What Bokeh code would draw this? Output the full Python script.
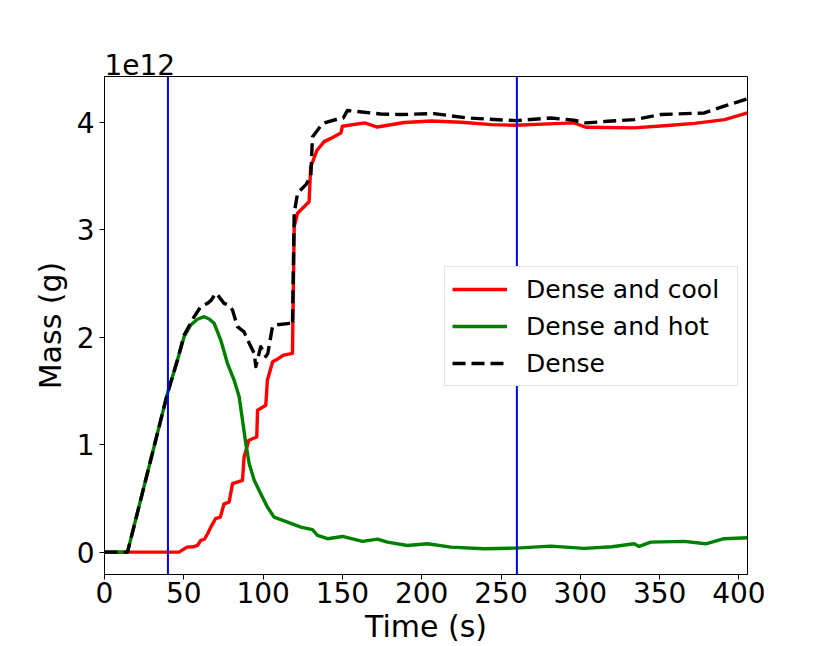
import numpy as np
from bokeh.plotting import figure
from bokeh.models import (Range1d, FixedTicker, CustomJSTickFormatter, Span, Title,
                          Legend, LegendItem)
from bokeh.embed import file_html
from bokeh.resources import INLINE

SCALE = 1e12  # masses below are in units of 1e12 g

# Dense and cool (red)
t_cool = [0, 47, 52, 56, 58.6, 60.7, 63, 65, 67, 70, 73, 75.4, 78.6, 80.7, 87, 88, 91, 96,
          96.5, 101.7, 102.7, 106, 108, 113, 118.5, 119.6, 121.7, 129, 130, 134, 138.5, 142.7,
          149, 150, 164, 172, 189, 206, 225, 244, 259, 280, 296, 303.5, 334, 355, 372, 391, 405.4]
m_cool = [0, 0, 0.047, 0.05, 0.062, 0.109, 0.12, 0.171, 0.233, 0.311, 0.326, 0.45, 0.466, 0.637,
          0.668, 0.886, 1.041, 1.072, 1.32, 1.367, 1.6, 1.771, 1.787, 1.834, 1.849, 3.03, 3.153,
          3.261, 3.584, 3.74, 3.82, 3.85, 3.9, 3.963, 3.994, 3.956, 3.998, 4.012, 4.0, 3.978,
          3.972, 3.985, 3.994, 3.954, 3.948, 3.97, 3.99, 4.025, 4.087]

# Dense and hot (green)
t_hot = [0, 14.5, 39.7, 46, 50.2, 54.4, 58.6, 62.8, 66, 69.1, 73.3, 77.5, 81.7, 84.9, 87, 89.1,
         91.2, 94.4, 98.5, 102.7, 106.9, 115.4, 123.8, 131.1, 134.3, 140.6, 150.1, 162.7, 172.1,
         178.4, 191, 203.6, 218.4, 239.3, 259.3, 281.4, 302.4, 320, 333.9, 337.1, 344.4, 365.4,
         379.1, 390.6, 405.4]
m_hot = [0, 0, 1.477, 1.787, 2.005, 2.114, 2.167, 2.191, 2.17, 2.13, 1.974, 1.757, 1.601, 1.445,
         1.228, 1.01, 0.824, 0.669, 0.544, 0.42, 0.326, 0.28, 0.233, 0.209, 0.156, 0.125, 0.146,
         0.1, 0.121, 0.093, 0.062, 0.078, 0.047, 0.032, 0.037, 0.056, 0.035, 0.05, 0.078, 0.053,
         0.093, 0.1, 0.078, 0.125, 0.134]

# Dense (black dashed)
t_dense = [0, 14.5, 39.7, 46, 50.2, 56.5, 60.7, 64.9, 67, 70.2, 72, 75.4, 78, 80.7, 83.8, 88,
           90.2, 94.4, 95.4, 98.5, 101.7, 103, 105.9, 107, 117.4, 118.5, 119.6, 121.7, 127,
           130.1, 131.1, 137.4, 146.9, 150.5, 153.2, 174.2, 186.8, 207.8, 228.8, 259.4, 281.5,
           296.1, 303.5, 317.2, 334, 350.9, 378.2, 390.7, 405.4]
m_dense = [0, 0, 1.477, 1.787, 2.02, 2.19, 2.284, 2.315, 2.34, 2.409, 2.38, 2.315, 2.3, 2.253,
           2.098, 2.05, 1.974, 1.85, 1.726, 1.912, 1.82, 1.85, 2.098, 2.113, 2.129, 2.113, 3.153,
           3.34, 3.42, 3.5, 3.863, 3.988, 4.03, 4.04, 4.11, 4.077, 4.072, 4.081, 4.04, 4.015,
           4.04, 4.019, 3.994, 4.009, 4.025, 4.072, 4.087, 4.15, 4.218]

v_lines = [40, 260]
x_ticks = [0, 50, 100, 150, 200, 250, 300, 350, 400]
y_ticks = [0, 1, 2, 3, 4]
x_lim = (0, 405.4)
y_lim = (-0.208, 4.426)

labels = ["Dense and cool", "Dense and hot", "Dense"]

FONT = "DejaVu Sans"

p = figure(width=830, height=646, output_backend="svg", toolbar_location=None,
           x_range=Range1d(*x_lim),
           y_range=Range1d(y_lim[0] * SCALE, y_lim[1] * SCALE),
           min_border_left=104, min_border_right=83, min_border_top=76, min_border_bottom=72)
p.background_fill_color = "white"
p.border_fill_color = "white"
p.outline_line_color = "black"
p.outline_line_width = 1
p.grid.visible = False

r_cool = p.line(t_cool, np.array(m_cool) * SCALE, line_color="red", line_width=3.4,
                line_join="round")
r_hot = p.line(t_hot, np.array(m_hot) * SCALE, line_color="green", line_width=3.4,
               line_join="round")
r_dense = p.line(t_dense, np.array(m_dense) * SCALE, line_color="black", line_width=3.4,
                 line_dash="13 6", line_join="round")

for xv in v_lines:
    p.add_layout(Span(location=xv, dimension="height", line_color="blue", line_width=2))

for ax in (p.xaxis[0], p.yaxis[0]):
    ax.axis_line_color = "black"
    ax.axis_line_width = 1
    ax.major_tick_line_color = "black"
    ax.major_tick_line_width = 1
    ax.major_tick_out = 5
    ax.major_tick_in = 0
    ax.minor_tick_line_color = None
    ax.major_label_text_font = FONT
    ax.major_label_text_font_size = "28px"
    ax.major_label_text_color = "black"
    ax.axis_label_text_font = FONT
    ax.axis_label_text_font_size = "30px"
    ax.axis_label_text_font_style = "normal"
    ax.axis_label_text_color = "black"

p.xaxis.ticker = FixedTicker(ticks=x_ticks)
p.yaxis.ticker = FixedTicker(ticks=[v * SCALE for v in y_ticks])
p.yaxis.formatter = CustomJSTickFormatter(code="return (tick/1e12).toFixed(0);")
p.xaxis.axis_label = "Time (s)"
p.yaxis.axis_label = "Mass (g)"
p.xaxis.major_label_standoff = 2
p.xaxis.axis_label_standoff = 3
p.yaxis.major_label_standoff = 5
p.yaxis.axis_label_standoff = 6

p.add_layout(Title(text="1e12", align="left", text_font=FONT, text_font_size="28px",
                   text_font_style="normal", text_color="black", standoff=4, offset=0),
             "above")

legend = Legend(items=[LegendItem(label=labels[0], renderers=[r_cool]),
                       LegendItem(label=labels[1], renderers=[r_hot]),
                       LegendItem(label=labels[2], renderers=[r_dense])],
                location=(340, 188))
legend.label_text_font = FONT
legend.label_text_font_size = "25px"
legend.label_text_color = "black"
legend.glyph_width = 55
legend.glyph_height = 30
legend.label_height = 30
legend.label_width = 204
legend.label_standoff = 19
legend.padding = 7
legend.spacing = 7
legend.margin = 0
legend.border_line_color = "#cccccc"
legend.border_line_width = 1
legend.background_fill_alpha = 1.0
p.add_layout(legend)

open("out.html", "w").write(file_html(p, INLINE))
